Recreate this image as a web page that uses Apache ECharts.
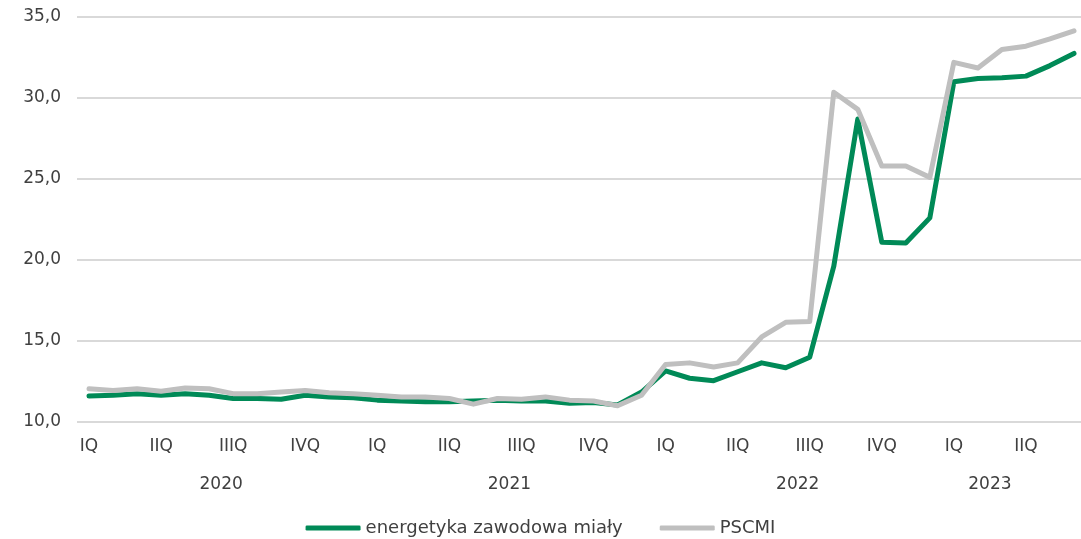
<!DOCTYPE html>
<html>
<head>
<meta charset="utf-8">
<script src="https://cdn.jsdelivr.net/npm/echarts@6/dist/echarts.min.js"></script>
<style>
  html, body { margin: 0; padding: 0; background: #fff; }
  #chart { width: 1081px; height: 539px; }
</style>
</head>
<body>
<div id="chart"></div>
<script>
// miesiące 2020-01 .. 2023-06
const years = ['2020', '2021', '2022', '2023']
const quarterLabels = ['IQ', 'IIQ', 'IIIQ', 'IVQ']
const months = []
for (let i = 0; i < 42; i++) {
  months.push(years[Math.floor(i / 12)] + '-' + String(i % 12 + 1).padStart(2, '0'))
}

const energetyka = [11.6, 11.65, 11.75, 11.65, 11.75, 11.65, 11.45, 11.45, 11.4, 11.65, 11.55, 11.5,
  11.35, 11.3, 11.25, 11.25, 11.3, 11.35, 11.3, 11.3, 11.15, 11.2, 11.05, 11.85,
  13.15, 12.7, 12.55, 13.1, 13.65, 13.35, 14.0, 19.6, 28.7, 21.1, 21.05, 22.6,
  31.0, 31.2, 31.25, 31.35, 32.0, 32.75]

const pscmi = [12.05, 11.95, 12.05, 11.9, 12.1, 12.05, 11.75, 11.75, 11.85, 11.95, 11.8, 11.75,
  11.65, 11.55, 11.55, 11.45, 11.1, 11.45, 11.4, 11.55, 11.35, 11.3, 11.0, 11.65,
  13.55, 13.65, 13.4, 13.65, 15.25, 16.15, 16.2, 30.35, 29.3, 25.8, 25.8, 25.1,
  32.2, 31.85, 33.0, 33.2, 33.65, 34.15]

// środek grupy lat na osi (w jednostkach indeksu miesiąca)
const yearCenters = { 5.5: '2020', 17.5: '2021', 29.5: '2022', 37.5: '2023' }

const font = '"DejaVu Sans", sans-serif'
const textColor = '#404040'

const chart = echarts.init(document.getElementById('chart'))

chart.setOption({
  animation: false,
  textStyle: { fontFamily: font },
  grid: {
    top: 17,
    left: 77,
    width: 1009,
    bottom: 117,
    containLabel: false,
    outerBoundsMode: 'none'
  },
  legend: {
    top: 514,
    left: 'center',
    icon: 'roundRect',
    itemWidth: 55,
    itemHeight: 5,
    itemGap: 37,
    itemStyle: { borderWidth: 0 },
    textStyle: { color: textColor, fontSize: 18, fontFamily: font },
    data: ['energetyka zawodowa miały', 'PSCMI']
  },
  xAxis: [{
    type: 'category',
    data: months,
    boundaryGap: true,
    axisLine: { show: false },
    axisTick: { show: false },
    axisLabel: {
      interval: 2,
      margin: 16,
      color: textColor,
      fontSize: 17,
      formatter: (v, idx) => quarterLabels[Math.floor(idx / 3) % 4]
    }
  }, {
    type: 'value',
    position: 'bottom',
    min: -0.5,
    max: 41.5,
    interval: 2,
    offset: 46,
    axisLine: { show: false },
    axisTick: { show: false },
    splitLine: { show: false },
    axisLabel: {
      color: textColor,
      fontSize: 17,
      showMinLabel: true,
      showMaxLabel: true,
      formatter: v => yearCenters[v] || ''
    }
  }],
  yAxis: {
    type: 'value',
    min: 10,
    max: 35,
    interval: 5,
    axisLine: { show: false },
    axisTick: { show: false },
    axisLabel: {
      margin: 16,
      color: textColor,
      fontSize: 17,
      formatter: v => v.toFixed(1).replace('.', ',')
    },
    splitLine: { lineStyle: { color: '#D9D9D9', width: 2 } }
  },
  series: [{
    name: 'energetyka zawodowa miały',
    type: 'line',
    data: energetyka,
    symbol: 'none',
    itemStyle: { color: '#008A57' },
    lineStyle: { color: '#008A57', width: 5, join: 'round', cap: 'round' }
  }, {
    name: 'PSCMI',
    type: 'line',
    data: pscmi,
    symbol: 'none',
    itemStyle: { color: '#BFBFBF' },
    lineStyle: { color: '#BFBFBF', width: 5, join: 'round', cap: 'round' }
  }]
})
</script>
</body>
</html>
